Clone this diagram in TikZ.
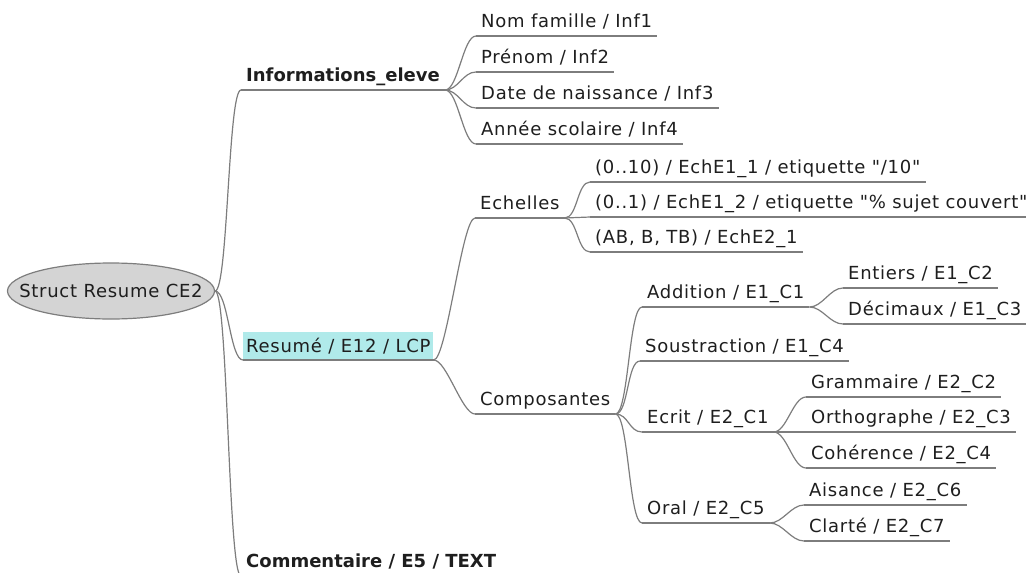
\documentclass[tikz,border=0pt]{standalone}
\usepackage{fontspec}
\setmainfont{DejaVu Sans}
\newfontfamily\mapfont[LetterSpace=4]{DejaVu Sans}
\usetikzlibrary{shapes.geometric}
\definecolor{linegray}{RGB}{125,125,125}
\definecolor{textdark}{RGB}{30,30,30}
\definecolor{rootfill}{RGB}{212,212,212}
\definecolor{selcyan}{RGB}{176,234,234}

\begin{document}
\begin{tikzpicture}[x=1pt,y=-1pt]
\tikzset{
  rootnode/.style={ellipse,draw=linegray,line width=1.2pt,fill=rootfill,minimum width=207pt,minimum height=56pt,inner sep=0pt,font=\mapfont\fontsize{18}{20}\selectfont,text=textdark},
  mapnode/.style={anchor=south west,inner xsep=5pt,inner ysep=0pt,text height=14pt,text depth=8pt,font=\mapfont\fontsize{18}{20}\selectfont,text=textdark},
  boldnode/.style={mapnode,font=\bfseries\fontsize{18}{20}\selectfont},
  selnode/.style={mapnode,fill=selcyan,inner xsep=3pt,text height=21pt,text depth=7pt},
  underline/.style={draw=linegray,line width=1.2pt},
  branch/.style={draw=linegray,line width=1.2pt}
}
\useasboundingbox (0,0) rectangle (1026,573);
\clip (0,0) rectangle (1026,573);
\node[rootnode] (n_root) at (111,291) {\makebox[0pt]{Struct Resume CE2}};
\node[boldnode] (n_info) at (241,90) {Informations\_eleve};
\node[selnode] (n_resume) at (243,360) {Resumé / E12 / LCP};
\node[boldnode] (n_comment) at (241,576) {Commentaire / E5 / TEXT};
\node[mapnode] (n_nom) at (476,36) {Nom famille / Inf1};
\node[mapnode] (n_prenom) at (476,72) {Prénom / Inf2};
\node[mapnode] (n_date) at (476,108) {Date de naissance / Inf3};
\node[mapnode] (n_annee) at (476,144) {Année scolaire / Inf4};
\node[mapnode] (n_echelles) at (475,218) {Echelles};
\node[mapnode] (n_compo) at (475,414) {Composantes};
\node[mapnode] (n_ech1) at (590,182) {(0..10) / EchE1\_1 / etiquette "/10"};
\node[mapnode] (n_ech2) at (590,217) {(0..1) / EchE1\_2 / etiquette "\% sujet couvert"};
\node[mapnode] (n_ech3) at (590,252) {(AB, B, TB) / EchE2\_1};
\node[mapnode] (n_add) at (642,307) {Addition / E1\_C1};
\node[mapnode] (n_sous) at (640,361) {Soustraction / E1\_C4};
\node[mapnode] (n_ecrit) at (642,432) {Ecrit / E2\_C1};
\node[mapnode] (n_oral) at (642,523) {Oral / E2\_C5};
\node[mapnode] (n_entiers) at (843,288) {Entiers / E1\_C2};
\node[mapnode] (n_decim) at (843,324) {Décimaux / E1\_C3};
\node[mapnode] (n_gram) at (806,397) {Grammaire / E2\_C2};
\node[mapnode] (n_ortho) at (806,432) {Orthographe / E2\_C3};
\node[mapnode] (n_coher) at (806,468) {Cohérence / E2\_C4};
\node[mapnode] (n_aisance) at (804,505) {Aisance / E2\_C6};
\node[mapnode] (n_clarte) at (804,541) {Clarté / E2\_C7};
\foreach \n in {n_info,n_resume,n_comment,n_nom,n_prenom,n_date,n_annee,n_echelles,n_compo,n_ech1,n_ech2,n_ech3,n_add,n_sous,n_ecrit,n_oral,n_entiers,n_decim,n_gram,n_ortho,n_coher,n_aisance,n_clarte}
  \draw[underline] (\n.south west) -- (\n.south east);
\foreach \b in {n_info,n_resume,n_comment}
  \draw[branch] (n_root.east) .. controls +(13,0) and +(-13,0) .. (\b.south west);
\foreach \a/\b in {n_info/n_nom,n_info/n_prenom,n_info/n_date,n_info/n_annee,
  n_resume/n_echelles,n_resume/n_compo,
  n_echelles/n_ech1,n_echelles/n_ech2,n_echelles/n_ech3,
  n_compo/n_add,n_compo/n_sous,n_compo/n_ecrit,n_compo/n_oral,
  n_add/n_entiers,n_add/n_decim,
  n_ecrit/n_gram,n_ecrit/n_ortho,n_ecrit/n_coher,
  n_oral/n_aisance,n_oral/n_clarte}
  \draw[branch] (\a.south east) .. controls +(13,0) and +(-13,0) .. (\b.south west);
\end{tikzpicture}
\end{document}
